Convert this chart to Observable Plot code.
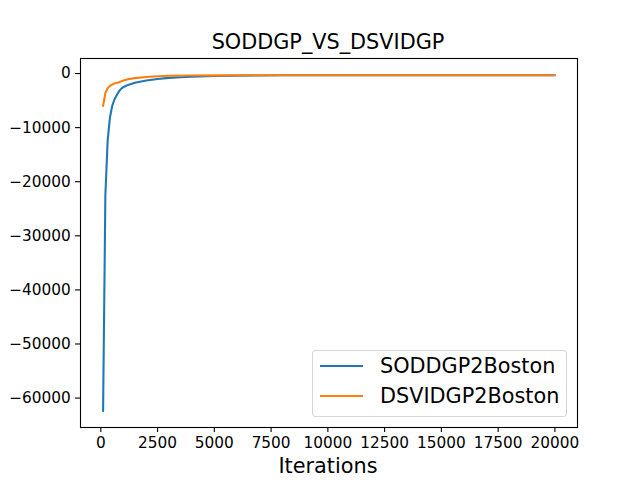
<!DOCTYPE html>
<html>
<head>
<meta charset="utf-8">
<script src="https://cdn.jsdelivr.net/npm/d3@7"></script>
<script src="https://cdn.jsdelivr.net/npm/@observablehq/plot@0.6"></script>
<style>
  html, body { margin: 0; padding: 0; background: white; }
  #wrap { position: relative; width: 640px; height: 480px; font-family: "DejaVu Sans", sans-serif; color: black; }
  .title { position: absolute; left: 80px; width: 496px; top: 30px; line-height: 24px; font-size: 20.8px; text-align: center; }
  .xlabel { position: absolute; left: 80px; width: 496px; top: 454px; line-height: 24px; font-size: 20.8px; text-align: center; }
  .legend { position: absolute; left: 312px; top: 350px; width: 255px; height: 67px; box-sizing: border-box;
            border: 1px solid rgba(204,204,204,0.8); border-radius: 4px; background: rgba(255,255,255,0.8); }
  .swatch { position: absolute; left: 7px; width: 43px; height: 2px; }
  .ltext { position: absolute; left: 67px; font-size: 20.8px; line-height: 24px; white-space: nowrap; }
</style>
</head>
<body>
<div id="wrap"></div>
<script>
const title = "SODDGP_VS_DSVIDGP";
const xLabel = "Iterations";
const seriesNames = ["SODDGP2Boston", "DSVIDGP2Boston"];
const seriesColors = ["#1f77b4", "#ff7f0e"];

const xTicks = [0, 2500, 5000, 7500, 10000, 12500, 15000, 17500, 20000];
const yTicks = [-60000, -50000, -40000, -30000, -20000, -10000, 0];

const iterSODDGP = [100, 200, 300, 400, 500, 600, 700, 800, 900, 1000, 1200, 1500, 2000, 2500, 3000, 3500, 4000, 5000, 6000, 7000, 8000, 10000, 12000, 15000, 18000, 20000];
const elboSODDGP = [-62400, -22500, -12500, -8200, -6000, -4800, -4000, -3300, -2800, -2500, -2100, -1700, -1300, -1000, -800, -680, -580, -450, -380, -350, -330, -320, -310, -320, -310, -330];

const iterDSVIDGP = [100, 200, 300, 400, 500, 600, 800, 1000, 1200, 1500, 2000, 2500, 3000, 4000, 5000, 7000, 10000, 15000, 20000];
const elboDSVIDGP = [-6000, -3600, -2700, -2300, -2050, -1850, -1600, -1300, -1050, -850, -650, -500, -420, -370, -340, -320, -310, -310, -330];

const blue = iterSODDGP.map((x, i) => ({x, y: elboSODDGP[i]}));
const orange = iterDSVIDGP.map((x, i) => ({x, y: elboDSVIDGP[i]}));

const chart = Plot.plot({
  width: 640,
  height: 480,
  marginLeft: 80,
  marginRight: 63,
  marginTop: 58,
  marginBottom: 53,
  style: { fontFamily: "DejaVu Sans, sans-serif", fontSize: "15.3px", background: "white", color: "black", overflow: "visible" },
  x: { domain: [-895, 20995] },
  y: { domain: [-65440, 2780] },
  marks: [
    Plot.axisX({ ticks: xTicks, tickFormat: d3.format("d"), tickSize: 4.9, tickPadding: 4.9, strokeWidth: 1.1, label: null, fontSize: 15.3 }),
    Plot.axisY({ ticks: yTicks, tickFormat: d3.format("d"), tickSize: 4.9, tickPadding: 4.9, strokeWidth: 1.1, label: null, fontSize: 15.3 }),
    Plot.line(blue, { x: "x", y: "y", stroke: seriesColors[0], strokeWidth: 2.08, strokeLinejoin: "round" }),
    Plot.line(orange, { x: "x", y: "y", stroke: seriesColors[1], strokeWidth: 2.08, strokeLinejoin: "round" }),
    Plot.frame({ stroke: "black", strokeWidth: 1.1 })
  ]
});

const wrap = document.getElementById("wrap");
wrap.appendChild(chart);
chart.style.position = "absolute";
chart.style.left = "0px";
chart.style.top = "0px";

const t = document.createElement("div");
t.className = "title"; t.textContent = title; wrap.appendChild(t);
const xl = document.createElement("div");
xl.className = "xlabel"; xl.textContent = xLabel; wrap.appendChild(xl);

const lg = document.createElement("div");
lg.className = "legend";
seriesNames.forEach((name, i) => {
  const cy = 15 + i * 30;
  const sw = document.createElement("div");
  sw.className = "swatch"; sw.style.top = (cy - 1) + "px"; sw.style.background = seriesColors[i];
  lg.appendChild(sw);
  const tx = document.createElement("div");
  tx.className = "ltext"; tx.style.top = (cy - 12) + "px"; tx.textContent = name;
  lg.appendChild(tx);
});
wrap.appendChild(lg);
</script>
</body>
</html>
